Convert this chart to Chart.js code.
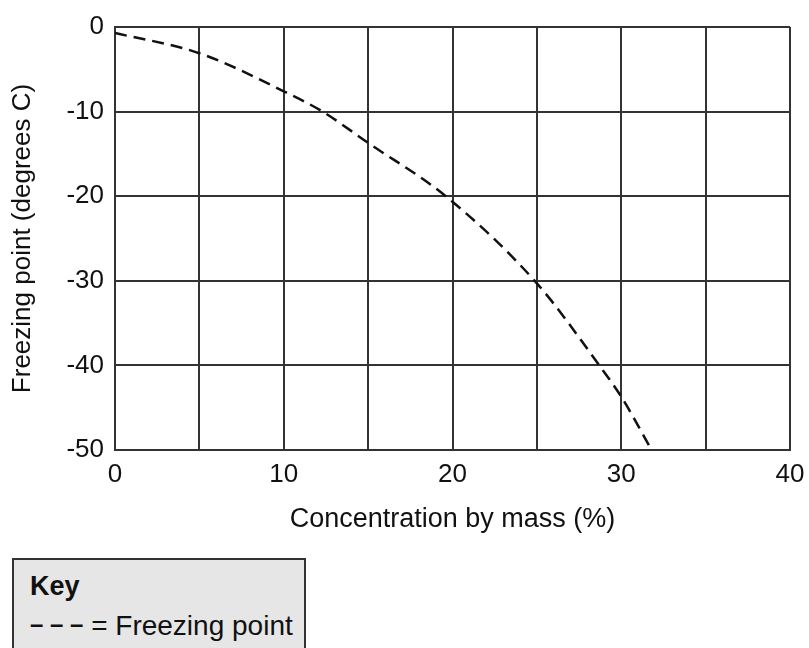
<!DOCTYPE html>
<html>
<head>
<meta charset="utf-8">
<script src="https://cdn.jsdelivr.net/npm/chart.js@4"></script>
<style>
  html, body { margin: 0; padding: 0; background: #fff; }
  #wrap { position: relative; width: 809px; height: 648px; }
  #key {
    position: absolute; left: 12px; top: 558px; width: 294px; height: 100px;
    background: #e6e6e6; border: 2px solid #333; box-sizing: border-box;
    font-family: "Liberation Sans", Arial, sans-serif; color: #111;
  }
  #key .title { position: absolute; left: 16px; top: 11px; font-size: 27px; font-weight: bold; }
  #key .item { position: absolute; left: 16px; top: 50px; font-size: 28px; white-space: nowrap; }
  #key .dash { font-size: 24px; font-weight: bold; vertical-align: 3px; }
</style>
</head>
<body>
<div id="wrap">
  <canvas id="chart" width="809" height="648"></canvas>
  <div id="key">
    <div class="title">Key</div>
    <div class="item"><span class="dash">– – –</span> = Freezing point</div>
  </div>
</div>
<script>
const concentration = [0, 5, 10, 12.3, 15, 19.6, 25, 28.7, 30, 31.8];
const freezingPoint = [-0.7, -3.1, -7.6, -10, -13.7, -20, -30.3, -40, -43.7, -50];
const xTicks = [0, 10, 20, 30, 40];
const yTicks = [0, -10, -20, -30, -40, -50];

const points = concentration.map((c, i) => ({ x: c, y: freezingPoint[i] }));
const font = '"Liberation Sans", Arial, sans-serif';

const ctx = document.getElementById('chart').getContext('2d');
new Chart(ctx, {
  type: 'line',
  data: {
    datasets: [{
      label: 'Freezing point',
      data: points,
      borderColor: '#111',
      borderWidth: 2.5,
      borderDash: [12, 7],
      pointRadius: 0,
      fill: false,
      cubicInterpolationMode: 'monotone'
    }]
  },
  options: {
    responsive: false,
    animation: false,
    layout: { padding: { left: 0, right: 19, top: 27, bottom: 108 } },
    plugins: { legend: { display: false }, tooltip: { enabled: false } },
    scales: {
      x: {
        type: 'linear',
        min: 0,
        max: 40,
        afterBuildTicks: (s) => { s.ticks = [0, 5, 10, 15, 20, 25, 30, 35, 40].map(v => ({ value: v })); },
        afterFit: (s) => {
          s.height = 90;
          // let the "40" label hang past the plot edge like the original
          s.paddingLeft = 0;
          s.paddingRight = 0;
        },
        grid: { color: '#333', lineWidth: 2, drawTicks: false },
        border: { color: '#333', width: 2 },
        ticks: {
          color: '#111',
          font: { family: font, size: 26 },
          padding: 9,
          maxRotation: 0,
          autoSkip: false,
          callback: (v) => xTicks.includes(v) ? String(v) : ''
        },
        title: {
          display: true,
          text: 'Concentration by mass (%)',
          color: '#111',
          font: { family: font, size: 27 },
          padding: { top: 0, bottom: 4 }
        }
      },
      y: {
        type: 'linear',
        min: -50,
        max: 0,
        afterBuildTicks: (s) => { s.ticks = yTicks.map(v => ({ value: v })); },
        afterFit: (s) => { s.width = 115; },
        grid: { color: '#333', lineWidth: 2, drawTicks: false },
        border: { color: '#333', width: 2 },
        ticks: {
          color: '#111',
          font: { family: font, size: 26 },
          padding: 11
        },
        title: {
          display: true,
          text: 'Freezing point (degrees C)',
          color: '#111',
          font: { family: font, size: 26 },
          padding: { top: 7, bottom: 0 }
        }
      }
    }
  }
});
</script>
</body>
</html>
